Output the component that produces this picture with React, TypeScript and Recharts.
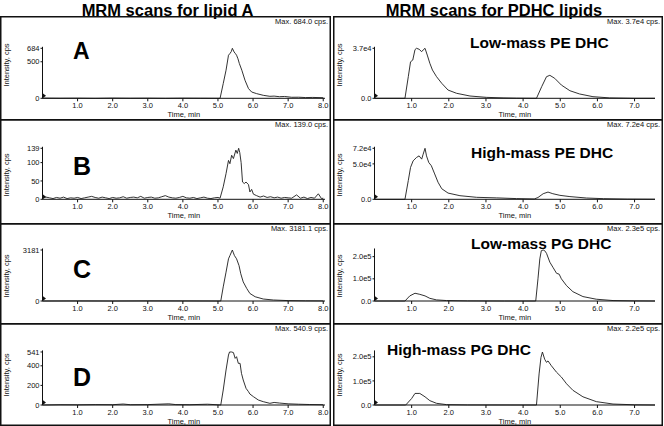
import { LineChart, Line, XAxis, YAxis, ReferenceDot } from "recharts";

const FONT = "Arial, 'Liberation Sans', Helvetica, sans-serif";

// lipid A MRM traces (time in min, intensity in cps)
const timeA = [0, 0.5, 1.0, 1.5, 2.0, 2.5, 3.0, 3.5, 4.0, 4.5, 5.0, 5.06, 5.15, 5.23, 5.3, 5.34, 5.38, 5.41, 5.46, 5.5, 5.53, 5.57, 5.61, 5.68, 5.77, 5.87, 5.96, 6.1, 6.29, 6.48, 6.6, 6.75, 6.9, 7.1, 7.3, 7.5, 7.7, 8.0];
const cpsA = [3, 1, 2, 0, 3, 1, 2, 0, 2, 1, 0, 0, 201, 384, 589, 612, 640, 684, 634, 610, 589, 540, 475, 384, 247, 133, 86, 64, 41, 27, 30, 22, 25, 14, 15, 10, 12, 8];

const timeB = [0, 0.1, 0.2, 0.3, 0.4, 0.5, 0.6, 0.7, 0.8, 0.9, 1.0, 1.1, 1.2, 1.3, 1.4, 1.5, 1.6, 1.7, 1.8, 1.9, 2.0, 2.1, 2.2, 2.3, 2.4, 2.5, 2.6, 2.7, 2.8, 2.9, 3.0, 3.1, 3.2, 3.3, 3.4, 3.5, 3.6, 3.7, 3.8, 3.9, 4.0, 4.1, 4.2, 4.3, 4.4, 4.5, 4.6, 4.7, 4.8, 4.9, 5.0,
  5.06, 5.15, 5.23, 5.3, 5.34, 5.39, 5.44, 5.51, 5.55, 5.59, 5.62, 5.66, 5.7, 5.75, 5.8, 5.87, 5.91, 5.96, 6.01, 6.1, 6.2, 6.3, 6.4, 6.5, 6.6, 6.7, 6.8, 6.9, 7.0, 7.1, 7.24, 7.35, 7.45, 7.55, 7.65, 7.75, 7.86, 7.95, 8.0];
const cpsB = [3, 6, 4, 2, 5, 3, 6, 2, 4, 3, 5, 2, 4, 6, 8, 5, 3, 6, 4, 2, 5, 3, 4, 7, 3, 5, 6, 4, 8, 3, 5, 6, 3, 4, 7, 10, 6, 4, 3, 5, 8, 4, 3, 5, 2, 4, 6, 3, 2, 4, 5,
  3, 34, 70, 106, 97, 120, 111, 134, 125, 139, 128, 100, 47, 43, 47, 40, 20, 27, 14, 10, 6, 9, 5, 7, 4, 6, 3, 5, 4, 3, 12, 3, 6, 2, 5, 3, 15, 2, 3];

const timeC = [0, 1, 2, 3, 4, 5.0, 5.08, 5.15, 5.23, 5.3, 5.34, 5.41, 5.44, 5.47, 5.53, 5.6, 5.65, 5.72, 5.82, 5.91, 6.06, 6.29, 6.58, 7.0, 7.5, 8.0];
const cpsC = [0, 5, 0, 8, 5, 0, 0, 880, 1800, 2630, 2830, 3181, 3000, 2830, 2630, 2210, 1700, 1190, 780, 470, 265, 123, 62, 25, 10, 5];

const timeD = [0, 0.5, 1.0, 1.5, 2.0, 2.3, 2.5, 3.0, 3.6, 3.8, 4.2, 4.7, 5.0, 5.08, 5.15, 5.23, 5.3, 5.33, 5.39, 5.44, 5.49, 5.53, 5.58, 5.63, 5.67, 5.72, 5.8, 5.87, 5.91, 6.01, 6.15, 6.29, 6.48, 6.6, 6.75, 7.0, 7.3, 7.6, 8.0];
const cpsD = [0, 3, 2, 4, 3, 10, 3, 4, 12, 4, 3, 8, 2, 0, 153, 357, 510, 541, 541, 535, 476, 493, 425, 425, 323, 255, 170, 136, 112, 85, 51, 34, 17, 26, 20, 12, 8, 5, 3];

// PDHC lipids
const timePE1 = [0, 0.82, 0.91, 0.97, 1.03, 1.09, 1.13, 1.2, 1.27, 1.31, 1.36, 1.42, 1.49, 1.56, 1.67, 1.81, 1.98, 2.21, 2.57, 3.01, 3.46, 3.82, 4.36, 4.5, 4.63, 4.72, 4.85, 5.03, 5.26, 5.52, 5.88, 6.33, 7.0, 7.55];
const cpsPE1 = [0, 0, 16000, 27000, 28300, 36000, 37000, 36300, 34500, 35800, 37000, 32000, 25900, 20900, 16000, 11100, 6100, 3700, 1700, 700, 300, 100, 0, 8600, 16000, 17000, 14800, 9800, 5600, 3200, 1200, 300, 0, 0];

const timePE2 = [0, 0.82, 0.91, 0.97, 1.04, 1.13, 1.2, 1.27, 1.31, 1.36, 1.4, 1.46, 1.53, 1.62, 1.71, 1.81, 1.98, 2.3, 2.75, 3.29, 3.82, 4.3, 4.4, 4.54, 4.67, 4.8, 4.99, 5.26, 5.71, 6.16, 6.8, 7.55];
const cpsPE2 = [0, 0, 26500, 45000, 54300, 59000, 61300, 56700, 63700, 72000, 61300, 52000, 47400, 35800, 24100, 14900, 8800, 5100, 2800, 2000, 1000, 500, 2500, 7900, 10200, 7900, 5600, 3800, 1800, 900, 300, 100];

const timePG1 = [0, 0.82, 0.95, 1.09, 1.22, 1.36, 1.49, 1.67, 1.94, 2.5, 3.5, 4.34, 4.4, 4.45, 4.49, 4.54, 4.58, 4.63, 4.72, 4.81, 4.9, 4.97, 5.03, 5.17, 5.34, 5.61, 5.97, 6.42, 7.0, 7.55];
const cpsPG1 = [0, 0, 23000, 35000, 30000, 23000, 12000, 5000, 2000, 500, 0, 0, 100000, 190000, 227000, 230000, 227000, 215000, 175000, 150000, 125000, 121000, 100000, 69000, 42000, 20000, 8000, 2000, 500, 0];

const timePG2 = [0, 0.84, 1.0, 1.09, 1.22, 1.36, 1.49, 1.67, 1.94, 2.5, 4.36, 4.43, 4.48, 4.52, 4.58, 4.63, 4.67, 4.76, 4.9, 5.03, 5.17, 5.34, 5.61, 5.97, 6.42, 7.0, 7.55];
const cpsPG2 = [0, 0, 27000, 48000, 48000, 34000, 18000, 7000, 1500, 300, 0, 129000, 197000, 220000, 190000, 177000, 183000, 163000, 136000, 116000, 88000, 61000, 34000, 14000, 4000, 800, 0];

const maxLeft = [684.0, 139.0, 3181.1, 540.9];
const maxRight = [3.7e4, 7.2e4, 2.3e5, 2.2e5];

const ticksA = [0, 500, 684];
const ticksB = [0, 50, 100, 139];
const ticksC = [0, 3181];
const ticksD = [0, 200, 400, 541];
const ticksPE1 = [0, 37000];
const ticksPE2 = [0, 50000, 72000];
const ticksPG = [0, 100000, 200000];

const leftTimeTicks = [1, 2, 3, 4, 5, 6, 7, 8];
const rightTimeTicks = [1, 2, 3, 4, 5, 6, 7];

const letters = ["A", "B", "C", "D"];
const rightNames = ["Low-mass PE DHC", "High-mass PE DHC", "Low-mass PG DHC", "High-mass PG DHC"];

// layout
const COL_X = [0, 333];
const COL_W = [331, 330];
const ROW_TOP = [16, 119, 223, 323];
const ROW_H = [103, 104, 100, 103];
const ROW_PEAK = [48.3, 148.3, 250, 352];
const ROW_BASE = [98.3, 199.3, 301, 405];
const LETTER_Y = [59, 175, 278, 386];
const LETTER_SIZE = [23, 25, 25, 25];
const NAME_X = [470, 471, 471, 387];
const NAME_Y = [48.3, 157.5, 249, 355.3];
const YLABEL_Y = [65, 175, 276, 375];

const expo = (v: number) => (v === 0 ? "0.0" : v.toExponential(1).replace("e+", "e"));

const tickStyle = { fontSize: 7.5, fill: "#111", fontFamily: FONT };

function Panel({ col, row, time, cps, max, yTicks }: any) {
  const top = ROW_TOP[row];
  const h = ROW_H[row];
  const span = (ROW_BASE[row] - ROW_PEAK[row]) * 1.03;
  const mt = ROW_BASE[row] - span - top;
  const mb = top + h - ROW_BASE[row] - 20;
  const data = time.map((t: number, i: number) => ({ t, v: cps[i] }));
  const left = col === 0;
  return (
    <div style={{ position: "absolute", left: COL_X[col], top }}>
      <LineChart width={COL_W[col]} height={h} data={data}
        margin={{ top: mt, right: left ? 6 : 8, bottom: mb, left: 0.5 }}>
        <XAxis dataKey="t" type="number" domain={[0, left ? 8.05 : 7.55]} ticks={left ? leftTimeTicks : rightTimeTicks}
          interval={0} tickFormatter={(v: number) => v.toFixed(1)} tickSize={3} tickMargin={1.5} height={20}
          tick={tickStyle} stroke="#111"
          label={{ value: "Time, min", position: "insideBottom", offset: 1.5, fontSize: 7.5, fill: "#111", fontFamily: FONT }} />
        <YAxis type="number" domain={[0, max * 1.03]} ticks={yTicks} interval={0}
          tickFormatter={(v: number) => (left ? String(v) : expo(v))}
          width={left ? 42 : 41} tickSize={2} tickMargin={1} tick={tickStyle} stroke="#111" />
        <Line type="linear" dataKey="v" stroke="#1c1c1c" strokeWidth={0.9} dot={false} isAnimationActive={false} />
        <ReferenceDot x={0} y={0} shape={(p: any) => (
          <path d={`M${p.cx - 0.5} ${p.cy - 5.5} L${p.cx + 3.5} ${p.cy - 2.5} L${p.cx - 0.5} ${p.cy + 0.5} Z`} fill="#111" />
        )} />
      </LineChart>
    </div>
  );
}

export default function App() {
  const leftSeries = [[timeA, cpsA, ticksA], [timeB, cpsB, ticksB], [timeC, cpsC, ticksC], [timeD, cpsD, ticksD]];
  const rightSeries = [[timePE1, cpsPE1, ticksPE1], [timePE2, cpsPE2, ticksPE2], [timePG1, cpsPG1, ticksPG], [timePG2, cpsPG2, ticksPG]];
  return (
    <div style={{ position: "absolute", left: 0, top: 0, width: 664, height: 426, background: "#fff", fontFamily: FONT }}>
      {leftSeries.map((s, r) => (
        <Panel key={"l" + r} col={0} row={r} time={s[0]} cps={s[1]} yTicks={s[2]} max={maxLeft[r]} />
      ))}
      {rightSeries.map((s, r) => (
        <Panel key={"r" + r} col={1} row={r} time={s[0]} cps={s[1]} yTicks={s[2]} max={maxRight[r]} />
      ))}
      <svg width={664} height={426} style={{ position: "absolute", left: 0, top: 0, pointerEvents: "none" }} fontFamily={FONT}>
        <text x={167.5} y={15.5} textAnchor="middle" fontSize={16.5} fontWeight="bold" fill="#000">MRM scans for lipid A</text>
        <text x={494} y={15.5} textAnchor="middle" fontSize={16.5} fontWeight="bold" fill="#000">MRM scans for PDHC lipids</text>
        {ROW_TOP.map((t, r) => (
          <g key={r}>
            {COL_X.map((x, c) => (
              <g key={c}>
                <rect x={x + 0.75} y={t + 0.75} width={COL_W[c] - 1.5} height={r === 3 ? ROW_H[r] - 1.5 : ROW_H[r]}
                  fill="none" stroke="#111" strokeWidth={1.5} />
                <text x={x + COL_W[c] - 3} y={t + 8} textAnchor="end" fontSize={7.5} fill="#111">
                  {"Max. " + (c === 0 ? maxLeft[r].toFixed(1) : expo(maxRight[r])) + " cps."}
                </text>
                <text transform={`translate(${x + 8.5}, ${YLABEL_Y[r]}) rotate(-90)`} textAnchor="middle" fontSize={7.5} fill="#111">
                  Intensity, cps
                </text>
              </g>
            ))}
            <text x={73} y={LETTER_Y[r]} fontSize={LETTER_SIZE[r]} fontWeight="bold" fill="#000">{letters[r]}</text>
            <text x={NAME_X[r]} y={NAME_Y[r]} fontSize={15.5} fontWeight="bold" fill="#000">{rightNames[r]}</text>
          </g>
        ))}
      </svg>
    </div>
  );
}
